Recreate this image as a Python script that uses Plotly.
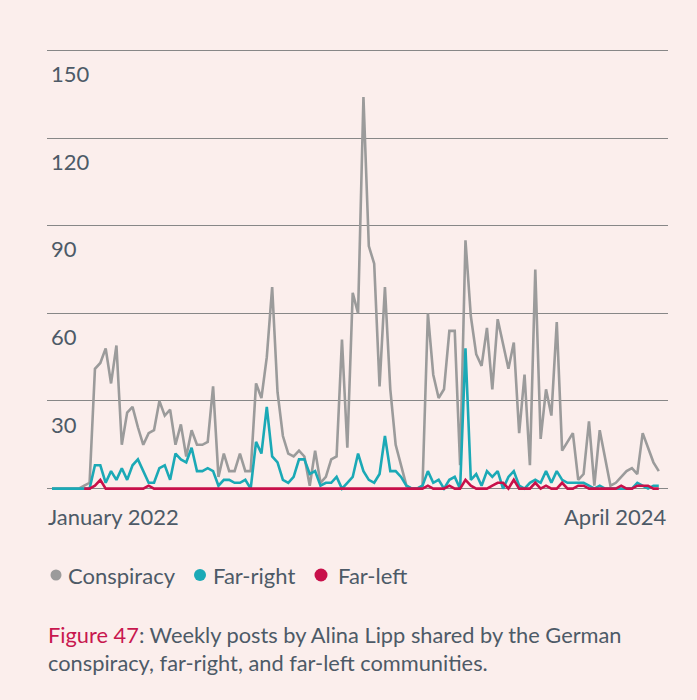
import pandas as pd
import plotly.graph_objects as go

# Weekly post counts, first week of January 2022 onwards
weeks = pd.date_range("2022-01-03", periods=114, freq="7D")

conspiracy = [
    0, 0, 0, 0, 0, 0, 1, 2, 41, 43, 48, 36, 49, 15, 26, 28, 21, 15, 19, 20,
    30, 25, 27, 15, 22, 11, 20, 15, 15, 16, 35, 4, 12, 6, 6, 12, 6, 6, 36, 31,
    45, 69, 33, 18, 12, 11, 13, 11, 1, 13, 2, 4, 10, 11, 51, 14, 67, 60, 134, 83,
    77, 35, 69, 34, 15, 8, 1, 0, 0, 1, 60, 39, 31, 34, 54, 54, 8, 85, 59, 46,
    42, 55, 34, 58, 50, 41, 50, 19, 39, 8, 75, 17, 34, 25, 57, 13, 16, 19, 3, 5,
    23, 1, 20, 10, 1, 2, 4, 6, 7, 5, 19, 14, 9, 6,
]

far_right = [
    0, 0, 0, 0, 0, 0, 0, 0, 8, 8, 2, 6, 3, 7, 3, 8, 10, 6, 2, 2,
    7, 8, 3, 12, 10, 9, 14, 6, 6, 7, 6, 1, 3, 3, 2, 2, 3, 0, 16, 12,
    28, 11, 9, 3, 2, 4, 10, 10, 5, 6, 1, 2, 2, 4, 0, 2, 4, 12, 6, 3,
    2, 5, 18, 6, 6, 4, 1, 0, 0, 1, 6, 2, 3, 0, 3, 4, 0, 48, 3, 5,
    1, 6, 4, 6, 0, 4, 6, 1, 0, 2, 3, 2, 6, 2, 6, 3, 2, 2, 2, 2,
    1, 0, 1, 0, 0, 0, 0, 0, 0, 2, 1, 0, 1, 1,
]

far_left = [
    None, None, None, None, None, None, 0, 0, 1, 3, 0, 0, 0, 0, 0, 0, 0, 0, 1, 0,
    0, 0, 0, 0, 0, 0, 0, 0, 0, 0, 0, 0, 0, 0, 0, 0, 0, 0, 0, 0,
    0, 0, 0, 0, 0, 0, 0, 0, 0, 0, 0, 0, 0, 0, 0, 0, 0, 0, 0, 0,
    0, 0, 0, 0, 0, 0, 0, 0, 0, 0, 1, 0, 0, 0, 1, 0, 0, 3, 1, 0,
    0, 0, 1, 2, 2, 0, 3, 0, 0, 0, 2, 0, 1, 0, 0, 2, 0, 0, 1, 1,
    0, 0, 0, 0, 0, 0, 1, 0, 0, 1, 1, 1, 0, 0,
]

y_ticks = [30, 60, 90, 120, 150]
series_names = ["Conspiracy", "Far-right", "Far-left"]
series_colors = ["#9b9b9b", "#1ba9b6", "#c8104a"]
x_labels = ["January 2022", "April 2024"]

BG = "#fbeeec"
TEXT = "#4d5a67"
GRID = "#878787"
FONT = "Lato"
FS = 22

fig = go.Figure()
for name, vals, col in zip(series_names, [conspiracy, far_right, far_left], series_colors):
    fig.add_trace(go.Scatter(
        x=weeks, y=vals, name=name, mode="lines",
        line=dict(color=col, width=2.6), showlegend=False,
        hoverinfo="skip",
    ))

x_range = [weeks[0] - pd.Timedelta(days=6.5), weeks[-1] + pd.Timedelta(days=12)]

fig.update_layout(
    width=697, height=700,
    margin=dict(l=47, r=29, t=46, b=207),
    paper_bgcolor=BG, plot_bgcolor=BG,
    font=dict(family=FONT, color=TEXT, size=FS),
    xaxis=dict(range=x_range, showgrid=False, zeroline=False,
               showticklabels=False, showline=False, ticks=""),
    yaxis=dict(range=[-1.5, 151.5], tickvals=y_ticks,
               showgrid=True, gridcolor=GRID, gridwidth=1.3,
               zeroline=True, zerolinecolor=GRID, zerolinewidth=1.3,
               showline=False, ticks="",
               ticklabelposition="inside", ticklabelstandoff=1,
               ticklabelshift=24,
               tickfont=dict(family=FONT, size=FS, color=TEXT)),
)

# Axis end labels
fig.add_annotation(text=x_labels[0], xref="paper", yref="paper", x=0, y=0,
                   xanchor="left", yanchor="middle", xshift=-1, yshift=-23,
                   showarrow=False, font=dict(size=FS))
fig.add_annotation(text=x_labels[1], xref="paper", yref="paper", x=1, y=0,
                   xanchor="right", yanchor="middle", xshift=1, yshift=-23,
                   showarrow=False, font=dict(size=FS))

# Legend: coloured dots followed by labels
legend_dot_px = [9, 153, 274]
legend_text_px = [19, 164, 289]
dot_r = [5.5, 6, 6.5]
for name, col, dx, tx, r in zip(series_names, series_colors, legend_dot_px, legend_text_px, dot_r):
    fig.add_shape(type="circle", xref="paper", yref="paper",
                  xsizemode="pixel", ysizemode="pixel", xanchor=0, yanchor=0,
                  x0=dx - r, x1=dx + r, y0=-82 - r, y1=-82 + r,
                  fillcolor=col, line=dict(width=0))
    fig.add_annotation(text=name, xref="paper", yref="paper", x=0, y=0,
                       xanchor="left", yanchor="middle", xshift=tx, yshift=-82,
                       showarrow=False, font=dict(size=FS))

# Caption
fig.add_annotation(
    text="<span style='color:#c8174f'>Figure 47</span>: Weekly posts by Alina Lipp shared by the German",
    xref="paper", yref="paper", x=0, y=0, xanchor="left", yanchor="middle",
    xshift=-1, yshift=-141, showarrow=False, font=dict(size=21.8))
fig.add_annotation(
    text="conspiracy, far-right, and far-left communities.",
    xref="paper", yref="paper", x=0, y=0, xanchor="left", yanchor="middle",
    xshift=-1, yshift=-169, showarrow=False, font=dict(size=21.8))

fig.write_html("out.html")
